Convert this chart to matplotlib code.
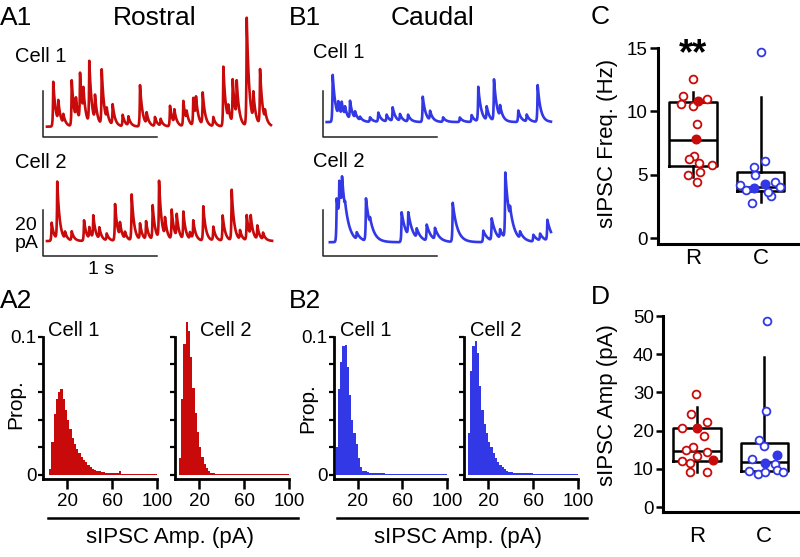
import numpy as np
import matplotlib
matplotlib.use("Agg")
import matplotlib.pyplot as plt

plt.rcParams['font.family'] = ['Liberation Sans', 'DejaVu Sans']

RED = '#C80A0A'
BLUE = '#3238E6'

# --- example traces: sIPSC peaks (time s, amplitude pA)
ros1_t = [0.090, 0.134, 0.178, 0.252, 0.289, 0.325, 0.354, 0.406, 0.456, 0.515,
          0.559, 0.611, 0.699, 0.749, 0.851, 0.909, 0.982, 1.032, 1.114, 1.152,
          1.231, 1.260, 1.318, 1.342, 1.401, 1.494, 1.582, 1.625, 1.664, 1.699,
          1.787, 1.845, 1.904, 1.947]
ros1_amp = [19.5, 9, 4, 20, 9, 21, 11, 27, 11, 24,
            5, 9, 5, 4, 18, 5, 4, 3, 9, 6,
            11, 4, 12, 9, 14, 4, 26, 6, 19, 16,
            47, 12, 24, 4]
ros2_t = [0.076, 0.125, 0.193, 0.252, 0.360, 0.406, 0.441, 0.494, 0.559, 0.632,
          0.675, 0.719, 0.778, 0.851, 0.904, 0.962, 1.018, 1.070, 1.129, 1.173,
          1.231, 1.289, 1.318, 1.406, 1.494, 1.576, 1.655, 1.728, 1.787, 1.822,
          1.880, 1.930]
ros2_amp = [8, 25, 3, 4, 9, 5, 10, 5, 3, 16,
            6, 3, 20, 7, 8, 15, 25, 8, 13, 10,
            12, 3, 8, 15, 6, 11, 22, 4, 11, 9,
            6, 3]
cau1_t = [0.085, 0.134, 0.164, 0.193, 0.237, 0.281, 0.325, 0.412, 0.485, 0.558,
          0.611, 0.675, 0.746, 0.875, 0.939, 1.053, 1.200, 1.304, 1.362, 1.436,
          1.500, 1.553, 1.713, 1.787, 1.883]
cau1_amp = [20.5, 6, 6, 4, 8, 3, 1.5, 2, 4, 3,
            6, 3, 3, 11, 4, 2, 2, 3, 15, 6,
            18, 5, 5, 3, 16]
cau2_t = [0.120, 0.143, 0.167, 0.193, 0.296, 0.377, 0.412, 0.690, 0.748, 0.822,
          0.910, 0.982, 1.138, 1.406, 1.480, 1.553, 1.599, 1.640, 1.728, 1.845,
          1.904, 1.968]
cau2_amp = [19, 16, 14, 3, 3, 18.5, 3, 13, 10, 4,
            7, 5, 17, 5, 9.6, 4, 28.5, 5, 3, 3,
            3, 9]

# --- amplitude histograms, 2 pA bins 0-100 pA (proportion)
amp_edges = np.arange(0, 102, 2)
ros1_hist = [0, 0, 0.004, 0.024, 0.044, 0.055, 0.060, 0.062, 0.055, 0.047,
             0.040, 0.033, 0.027, 0.022, 0.019, 0.016, 0.013, 0.011, 0.009, 0.007,
             0.006, 0.0045, 0.0035, 0.003, 0.0025, 0.002, 0.0018, 0.0015, 0.0013, 0.0012,
             0.0012, 0.001, 0.0012, 0.0025, 0.0008, 0.0007, 0.0006, 0.0006, 0.0005, 0.0005,
             0.0004, 0.0004, 0.0004, 0.0004, 0.0004, 0.0004, 0.0004, 0.0004, 0.0004, 0.0004]
ros2_hist = [0, 0.012, 0.055, 0.095, 0.111, 0.104, 0.085, 0.063, 0.045, 0.031,
             0.020, 0.013, 0.008, 0.005, 0.003, 0.0015, 0.001, 0.0007, 0.0005, 0.0004,
             0.0004, 0.0004, 0.0004, 0.0004, 0.0004, 0.0004, 0.0004, 0.0004, 0.0004, 0.0004,
             0.0004, 0.0004, 0.0004, 0.0004, 0.0004, 0.0004, 0.0004, 0.0004, 0.0004, 0.0004,
             0.0004, 0.0004, 0.0004, 0.0004, 0.0004, 0.0004, 0.0004, 0.0004, 0.0004, 0.0004]
cau1_hist = [0.020, 0.062, 0.082, 0.093, 0.094, 0.078, 0.058, 0.040, 0.030, 0.022,
             0.012, 0.006, 0.003, 0.0025, 0.002, 0.0017, 0.0015, 0.0013, 0.0012, 0.001,
             0.001, 0.001, 0.0009, 0.0009, 0.0008, 0.0008, 0.0008, 0.0007, 0.0007, 0.0006,
             0.0005, 0.0005, 0.0005, 0.0005, 0.0004, 0.0004, 0.0004, 0.0004, 0.0004, 0.0004,
             0.0004, 0.0004, 0.0004, 0.0004, 0.0004, 0.0004, 0.0004, 0.0004, 0.0004, 0.0004]
cau2_hist = [0, 0.030, 0.075, 0.093, 0.097, 0.088, 0.064, 0.047, 0.037, 0.030,
             0.024, 0.020, 0.016, 0.012, 0.0095, 0.007, 0.0055, 0.0042, 0.003, 0.0024,
             0.002, 0.0017, 0.0015, 0.0013, 0.0012, 0.0011, 0.001, 0.001, 0.001, 0.001,
             0.0006, 0.0006, 0.0006, 0.0006, 0.0006, 0.0006, 0.0006, 0.0006, 0.0006, 0.0006,
             0.0006, 0.0006, 0.0006, 0.0006, 0.0006, 0.0006, 0.0006, 0.0006, 0.0006, 0.0006]

# --- group data (open = other cells, filled = example cells 1 and 2)
freq_R_open = [12.55, 11.2, 11.0, 10.58, 10.42, 8.97, 6.47, 6.21, 5.89, 5.73, 5.24, 4.97, 4.45]
freq_R_filled = [10.84, 7.79]
freq_C_open = [14.71, 6.1, 5.58, 4.97, 4.16, 3.79, 4.45, 4.0, 3.31, 2.74, 3.66]
freq_C_filled = [3.92, 4.26]
amp_R_open = [29.6, 24.35, 22.34, 20.6, 18.6, 15.8, 14.9, 14.5, 13.35, 12.0, 11.6, 9.25, 9.25]
amp_R_filled = [20.6, 12.3]
amp_C_open = [48.8, 25.1, 17.5, 16.0, 12.7, 11.25, 9.5, 8.64, 9.25, 9.7, 9.1]
amp_C_filled = [13.6, 11.6]

# box stats: whislo, q1, med, q3, whishi
freq_R_box = [4.84, 5.68, 7.73, 10.76, 11.55]
freq_C_box = [2.87, 3.71, 4.0, 5.18, 11.15]
amp_R_box = [9.25, 12.04, 14.74, 20.6, 26.3]
amp_C_box = [9.4, 9.4, 11.7, 16.85, 39.2]

# horizontal scatter of the dots (px from box centre)
freq_R_open_dx = [0, -9.7, 14.3, -12.3, 0, 3.7, 1, -3.7, 6, 18.7, 7, -5.3, 3.7]
freq_R_filled_dx = [5.3, 2.7]
freq_C_open_dx = [0.6, 4, -6.7, -6, -21, -14.4, 14, 19.6, 10.6, -8.4, 7.3]
freq_C_filled_dx = [-6.7, 4]
amp_R_open_dx = [-1.3, -6, 10.3, -15.3, 7, -3.7, -11.3, 10.3, -0.3, -15.3, -7, -7, 10.3]
amp_R_filled_dx = [-0.3, 16.3]
amp_C_open_dx = [2.5, 1.5, -5.8, -0.2, -12.5, 10.8, -15.8, -6.5, 0.2, 12.5, 19.2]
amp_C_filled_dx = [12.5, 0.8]

W, H = 800, 557
fig = plt.figure(figsize=(W / 100, H / 100), dpi=100)


def rect(x0, y0, x1, y1):
    return [x0 / W, 1 - y1 / H, (x1 - x0) / W, (y1 - y0) / H]


def ftext(x, y, s, **kw):
    fig.text(x / W, 1 - y / H, s, **kw)


PX_S = 114.0
PX_PA = 2.3


def psc(dt, tau):
    # fast rise into the peak, single exponential decay after it
    return np.where(dt < 0, np.exp(np.minimum(dt, 0) / 0.0035), np.exp(-np.maximum(dt, 0) / tau))


def trace_panel(x0, y0, x1, y1, bar_x, bar_y, peaks, amps, base, span, tau, color):
    ax = fig.add_axes(rect(x0, y0, x1, y1))
    ax.set_xlim(-(bar_x - x0) / PX_S, (x1 - bar_x) / PX_S)
    ax.set_ylim(-(y1 - bar_y) / PX_PA, (bar_y - y0) / PX_PA)
    ax.axis('off')
    t = np.arange(span[0], span[1], 0.0005)
    y = np.full_like(t, base)
    for tp, a in zip(peaks, amps):
        y += a * psc(t - tp, tau)
    ax.plot(t, y, color=color, lw=1.9, solid_joinstyle='round')
    ax.plot([0, 0, 1], [20, 0, 0], color='#222222', lw=1.1)


trace_panel(38, 10, 278, 145, 43, 137, ros1_t, ros1_amp, 4.5, (0.035, 2.0), 0.022, RED)
trace_panel(38, 170, 278, 262, 43, 256, ros2_t, ros2_amp, 6.5, (0.035, 2.01), 0.022, RED)
trace_panel(318, 60, 558, 145, 323, 137, cau1_t, cau1_amp, 6.5, (0.032, 2.0), 0.026, BLUE)
trace_panel(318, 165, 558, 262, 323, 256, cau2_t, cau2_amp, 6.0, (0.06, 2.0), 0.04, BLUE)

ftext(0, 18, 'A1', fontsize=19, va='center')
ftext(155, 18, 'Rostral', fontsize=19, va='center', ha='center')
ftext(289, 18, 'B1', fontsize=19, va='center')
ftext(433, 18, 'Caudal', fontsize=19, va='center', ha='center')
ftext(591, 17, 'C', fontsize=19, va='center')
ftext(591, 297, 'D', fontsize=19, va='center')
ftext(0, 301, 'A2', fontsize=19, va='center')
ftext(289, 301, 'B2', fontsize=19, va='center')
ftext(15, 57, 'Cell 1', fontsize=14.5, va='center')
ftext(15, 163, 'Cell 2', fontsize=14.5, va='center')
ftext(313, 52, 'Cell 1', fontsize=14.5, va='center')
ftext(313, 162, 'Cell 2', fontsize=14.5, va='center')
ftext(15, 226, '20', fontsize=14, va='center')
ftext(15, 244, 'pA', fontsize=14, va='center')
ftext(101, 269, '1 s', fontsize=14, va='center', ha='center')


def hist_panel(x0, x1, heights, color, label, label_x, first):
    ax = fig.add_axes(rect(x0, 316, x1, 479))
    ax.stairs(heights, amp_edges, fill=True, color=color, lw=0)
    ax.set_xlim(-1.5, 100)
    ax.set_ylim(-0.003, 0.115)
    for s in ['top', 'right']:
        ax.spines[s].set_visible(False)
    for s in ['left', 'bottom']:
        ax.spines[s].set_linewidth(2.0)
    ax.spines['left'].set_bounds(-0.003, 0.1)
    ax.set_xticks([20, 60, 100])
    ax.set_yticks([0, 0.02, 0.04, 0.06, 0.08, 0.1])
    if first:
        ax.set_yticklabels(['0', '', '', '', '', '0.1'])
    else:
        ax.set_yticklabels([])
    ax.tick_params(axis='x', length=7, width=1.8, pad=3, labelsize=13.5)
    ax.tick_params(axis='y', length=3.5, width=1.6, pad=1, labelsize=13.5)
    ftext(label_x, 330, label, fontsize=14.5, va='center')


hist_panel(43, 157, ros1_hist, RED, 'Cell 1', 48, True)
hist_panel(175, 289, ros2_hist, RED, 'Cell 2', 200, False)
hist_panel(334, 447, cau1_hist, BLUE, 'Cell 1', 340, True)
hist_panel(464, 578, cau2_hist, BLUE, 'Cell 2', 470, False)

ftext(16, 404, 'Prop.', fontsize=15, rotation=90, va='center', ha='center')
ftext(308, 408, 'Prop.', fontsize=15, rotation=90, va='center', ha='center')
for xa, xb, xc in [(48, 298, 170), (337, 587, 458)]:
    fig.add_artist(plt.Line2D([xa / W, xb / W], [1 - 518 / H, 1 - 518 / H], color='black', lw=1.8))
    ftext(xc, 537, 'sIPSC Amp. (pA)', fontsize=16, ha='center', va='center')


def box_panel(rc, xlim, ylim, ytop, yticks, boxes, pts, px_unit, tlen, xpad, ylab, ylab_y):
    ax = fig.add_axes(rect(*rc))
    ax.set_xlim(*xlim)
    ax.set_ylim(*ylim)
    stats = []
    for b in boxes:
        stats.append(dict(whislo=b[0], q1=b[1], med=b[2], q3=b[3], whishi=b[4], fliers=[]))
    ax.bxp(stats, positions=[1, 2], widths=0.7, showcaps=False, showfliers=False,
           boxprops=dict(color='black', lw=1.8),
           whiskerprops=dict(color='black', lw=1.8),
           medianprops=dict(color='black', lw=1.8))
    for pos, color, (op, odx, fl, fdx) in zip([1, 2], [RED, BLUE], pts):
        ax.plot(pos + np.array(odx) / px_unit, op, 'o', ms=5.6, mfc='white', mec=color,
                mew=1.3, zorder=5, clip_on=False)
        ax.plot(pos + np.array(fdx) / px_unit, fl, 'o', ms=6.2, mfc=color, mec=color,
                mew=1.0, zorder=6, clip_on=False)
    for s in ['top', 'right']:
        ax.spines[s].set_visible(False)
    for s in ['left', 'bottom']:
        ax.spines[s].set_linewidth(2.2)
    ax.spines['left'].set_bounds(ylim[0], ytop)
    ax.set_yticks(yticks)
    ax.set_xticks([1, 2])
    ax.set_xticklabels(['R', 'C'])
    ax.tick_params(axis='y', length=tlen, width=1.8, pad=1.5, labelsize=13.5)
    ax.tick_params(axis='x', length=0, pad=xpad, labelsize=16)
    ftext(608, ylab_y, ylab, fontsize=16, rotation=90, va='center', ha='center')
    return ax


axc = box_panel((658, 36.6, 800, 244), (0.481, 2.585), (-0.47, 15.9), 15, [0, 5, 10, 15],
                [freq_R_box, freq_C_box],
                [(freq_R_open, freq_R_open_dx, freq_R_filled, freq_R_filled_dx),
                 (freq_C_open, freq_C_open_dx, freq_C_filled, freq_C_filled_dx)],
                67.5, 6, 3, 'sIPSC Freq. (Hz)', 143)
axc.text(1, 14.5, '**', fontsize=26, fontweight='bold', ha='center', va='center')

box_panel((663, 308.4, 800, 512), (0.496, 2.53), (-1.3, 52), 50, [0, 10, 20, 30, 40, 50],
          [amp_R_box, amp_C_box],
          [(amp_R_open, amp_R_open_dx, amp_R_filled, amp_R_filled_dx),
           (amp_C_open, amp_C_open_dx, amp_C_filled, amp_C_filled_dx)],
          67.5, 5, 10, 'sIPSC Amp (pA)', 405)

fig.savefig('out.png', dpi=100)
